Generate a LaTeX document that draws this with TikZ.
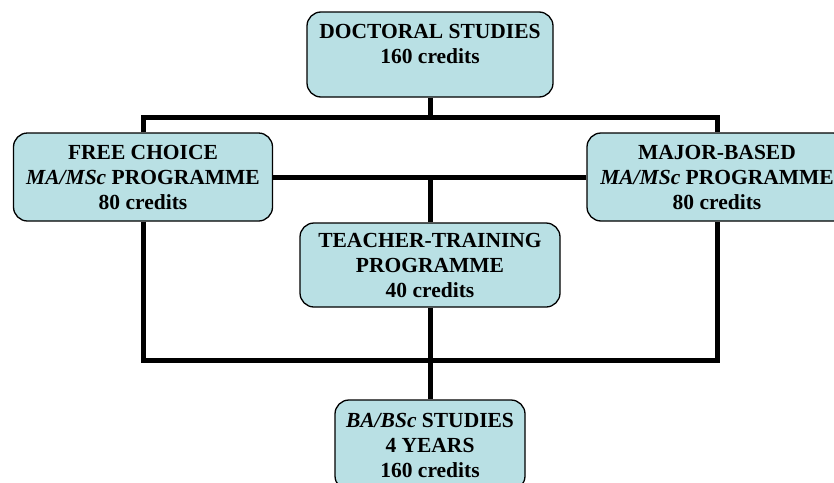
\documentclass[tikz,border=0pt]{standalone}
\usepackage{fontspec}
\setmainfont{Liberation Serif}
\usetikzlibrary{backgrounds}
\definecolor{boxfill}{HTML}{B9E0E4}
\tikzset{
  card/.style={draw=black, line width=1.3pt, fill=boxfill, rounded corners=14pt,
    align=center, inner sep=0pt, font=\bfseries\fontsize{21.5}{25}\selectfont},
  link/.style={draw=black, line width=5pt, line join=miter}
}
\begin{document}
\begin{tikzpicture}[x=1pt,y=-1pt]
\useasboundingbox (0,0) rectangle (834,482);
\clip (0,0) rectangle (834,482);
\node[card, minimum width=246pt, minimum height=85pt, text depth=22pt] (doc) at (430,54.5) {DOCTORAL STUDIES\\160 credits};
\node[card, minimum width=259pt, minimum height=88pt] (free) at (143,177) {FREE CHOICE\\\textit{MA/MSc} PROGRAMME\\80 credits};
\node[card, minimum width=260pt, minimum height=88pt] (major) at (717,177) {MAJOR-BASED\\\textit{MA/MSc} PROGRAMME\\80 credits};
\node[card, minimum width=260pt, minimum height=84pt] (teacher) at (430,265) {TEACHER-TRAINING\\PROGRAMME\\40 credits};
\node[card, minimum width=190pt, minimum height=90pt] (ba) at (430,445) {\textit{BA/BSc} STUDIES\\4 YEARS\\160 credits};
\coordinate (jt) at (430,117);
\coordinate (jb) at (430,360);
\begin{scope}[on background layer]
\fill[white] (0,0) rectangle (834,482);
\draw[link] (doc.south) -- (jt);
\draw[link] (free.north) |- (jt) -| (major.north);
\draw[link] (free.east) -- (major.west);
\draw[link] (teacher.north) -- (teacher.north |- free.east);
\draw[link] (free.south) |- (jb) -| (major.south);
\draw[link] (teacher.south) -- (ba.north);
\end{scope}
\end{tikzpicture}
\end{document}
